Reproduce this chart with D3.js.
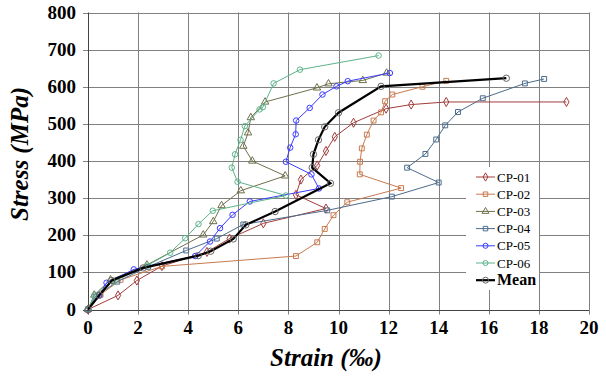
<!DOCTYPE html>
<html lang="en">
<head>
<meta charset="UTF-8"/>
<title>Stress strain</title>
<script src="https://d3js.org/d3.v7.min.js"></script>
<style>
	body{ margin:0; background:#fff; }
	text{ font-family:"Liberation Serif","Times New Roman",serif; }
</style>
</head>
<body>
<script>
// data: [strain ‰, stress MPa]
var names = ["CP-01","CP-02","CP-03","CP-04","CP-05","CP-06","Mean"];
var cp01 = [[0,0],[1.2,38],[1.95,78],[2.95,117],[4.75,155],[5.65,191],[7.0,232],[9.5,272],[8.3,309],[8.5,350],[9.15,388],[9.5,427],[9.85,465],[10.6,503],[11.9,541],[12.9,552],[14.3,559],[19.1,559]];
var cp02 = [[0,0],[0.5,40],[1.3,80],[2.95,116],[8.3,144],[9.15,181],[9.45,217],[9.8,254],[10.35,289],[12.5,327],[10.85,364],[10.86,398],[10.93,434],[11.13,471],[11.4,509],[11.7,531],[11.86,561],[12.15,579],[13.35,600],[14.3,616]];
var cp03 = [[0,0],[0.25,39],[0.9,80],[2.35,120],[4.6,201],[5.0,237],[5.33,280],[6.1,320],[7.87,360],[6.56,400],[6.2,440],[6.39,476],[6.5,517],[7.07,559],[9.14,597],[9.6,608],[10.97,617],[11.92,637]];
var cp04 = [[0,0],[0.3,35],[1.17,75],[2.4,115],[3.92,159],[5.14,191],[6.2,229],[9.55,267],[12.13,304],[14.0,342],[12.74,382],[13.47,419],[13.9,458],[14.26,496],[14.77,532],[15.76,569],[17.44,609],[18.21,621]];
var cp05 = [[0,0],[0.44,39],[0.74,72],[1.83,108],[4.28,144],[4.87,183],[5.27,219],[5.77,255],[6.46,291],[9.22,326],[8.92,364],[7.9,398],[8.07,436],[8.29,472],[8.31,509],[8.85,543],[9.36,579],[9.92,601],[10.37,615],[12.05,637]];
var cp06 = [[0,0],[0.25,38],[1.0,75],[2.36,118],[3.28,153],[3.88,192],[4.41,230],[4.98,266],[7.9,307],[5.97,344],[5.74,382],[5.87,418],[6.09,457],[6.26,494],[6.85,539],[6.98,545],[7.41,609],[8.46,646],[11.6,684]];
var mean = [[0,0],[0.45,38],[0.95,78],[2.2,112],[4.4,145],[4.9,157],[5.8,190],[6.3,228],[7.47,264],[9.68,340],[8.95,382],[9.0,418],[9.2,457],[9.45,492],[10.0,530],[11.7,601],[16.7,623]];
var xTicks = [0,2,4,6,8,10,12,14,16,18,20];
var yTicks = [0,100,200,300,400,500,600,700,800];

var series = [cp01,cp02,cp03,cp04,cp05,cp06,mean];
var colors = ["#a33c3c","#c77a4f","#6f6f4c","#4c6c8c","#3b3bff","#5db38a","#000"];
var shapes = [d3.symbolDiamond,d3.symbolSquare,d3.symbolTriangle,d3.symbolSquare,d3.symbolCircle,d3.symbolCircle,d3.symbolCircle];

var w = 606, h = 379;
var x = d3.scaleLinear().domain([0,20]).range([88,589]);
var y = d3.scaleLinear().domain([0,800]).range([309.5,12.5]);

var svg = d3.select("body").append("svg")
	.attr("width", w).attr("height", h);

// grid
svg.append("g").selectAll("line").data(yTicks.slice(1)).enter().append("line")
	.attr("x1", x(0)-5).attr("x2", x(20))
	.attr("y1", function(d){ return Math.round(y(d))+0.5; })
	.attr("y2", function(d){ return Math.round(y(d))+0.5; })
	.style("stroke","#808080");
svg.append("g").selectAll("line").data(xTicks.slice(1)).enter().append("line")
	.attr("y1", y(0)+5).attr("y2", y(800))
	.attr("x1", function(d){ return Math.round(x(d))+0.5; })
	.attr("x2", function(d){ return Math.round(x(d))+0.5; })
	.style("stroke","#808080");
// axes
svg.append("line").attr("x1", Math.round(x(0))+0.5).attr("x2", Math.round(x(0))+0.5)
	.attr("y1", y(0)+5).attr("y2", y(800)).style("stroke","#444");
svg.append("line").attr("x1", x(0)-5).attr("x2", x(20))
	.attr("y1", Math.round(y(0))+0.5).attr("y2", Math.round(y(0))+0.5).style("stroke","#444");

svg.append("g").selectAll("text").data(yTicks).enter().append("text")
	.attr("x", 76).attr("y", function(d){ return y(d)+6; })
	.attr("text-anchor","end")
	.style("font-weight","bold").style("font-size","19px")
	.text(function(d){ return d; });
svg.append("g").selectAll("text").data(xTicks).enter().append("text")
	.attr("x", function(d){ return x(d); }).attr("y", 334)
	.attr("text-anchor","middle")
	.style("font-weight","bold").style("font-size","19px")
	.text(function(d){ return d; });

svg.append("text").attr("transform","translate(28,154) rotate(-90)")
	.attr("text-anchor","middle")
	.style("font-weight","bold").style("font-style","italic").style("font-size","25px")
	.text("Stress (MPa)");
svg.append("text").attr("x", 326).attr("y", 366)
	.attr("text-anchor","middle")
	.style("font-weight","bold").style("font-style","italic").style("font-size","25px")
	.text("Strain (‰)");

// series
var line = d3.line().x(function(d){ return x(d[0]); }).y(function(d){ return y(d[1]); });
series.forEach(function(s, i){
	var last = i == 6;
	svg.append("path").datum(s).attr("d", line)
		.style("fill","none").style("stroke", colors[i])
		.style("stroke-width", last ? 2.2 : 1);
	svg.append("g").selectAll("path").data(s).enter().append("path")
		.attr("transform", function(d){ return "translate(" + x(d[0]) + "," + y(d[1]) + ")"; })
		.attr("d", d3.symbol().type(shapes[i]).size(last ? 32 : 24))
		.style("fill","none")
		.style("stroke", last ? "#666" : colors[i]);
});

// legend
var lg = svg.append("g");
lg.append("rect").attr("x", 466).attr("y", 167).attr("width", 73).attr("height", 123).style("fill","#fff");
names.forEach(function(n, i){
	var ly = 177 + i*17.2;
	var last = i == 6;
	lg.append("line").attr("x1", 476).attr("x2", 495).attr("y1", ly).attr("y2", ly)
		.style("stroke", colors[i]).style("stroke-width", last ? 2.2 : 1);
	lg.append("path").attr("transform","translate(485.5," + ly + ")")
		.attr("d", d3.symbol().type(shapes[i]).size(last ? 28 : 20))
		.style("fill","none").style("stroke", last ? "#666" : colors[i]);
	lg.append("text").attr("x", 497).attr("y", ly + 4.5)
		.style("font-size", last ? "16px" : "13px")
		.style("font-weight", last ? "bold" : "normal")
		.text(n);
});
</script>
</body>
</html>
